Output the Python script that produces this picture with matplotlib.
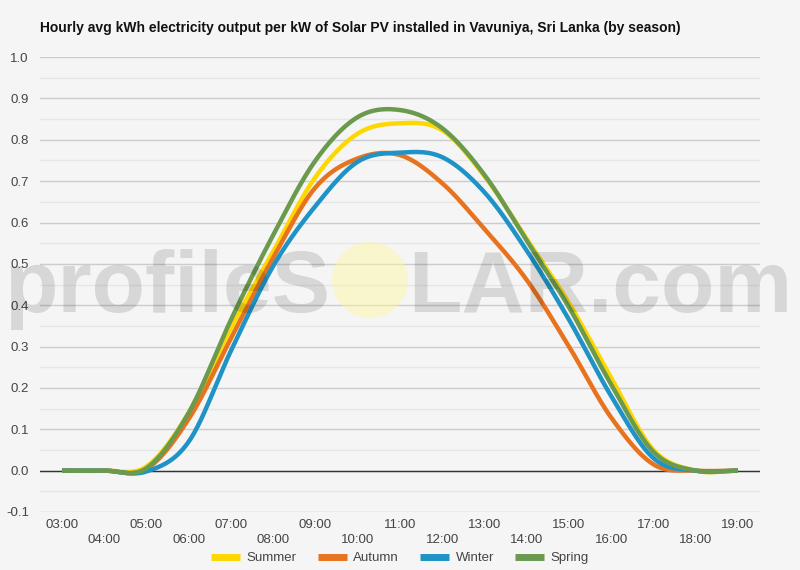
import numpy as np
import matplotlib
matplotlib.use("Agg")
import matplotlib.pyplot as plt
from matplotlib.patches import Ellipse

# data (hourly)
hours = list(range(3, 20))
hour_labels = ["%02d:00" % h for h in hours]
summer = [0, 0, 0.01, 0.14, 0.345, 0.53, 0.71, 0.815, 0.84, 0.823, 0.712, 0.56, 0.405, 0.224, 0.05, 0, 0]
autumn = [0, 0, 0.004, 0.125, 0.32, 0.515, 0.685, 0.755, 0.763, 0.695, 0.584, 0.461, 0.30, 0.128, 0.015, 0, 0]
winter = [0, 0, -0.002, 0.07, 0.29, 0.495, 0.64, 0.747, 0.769, 0.758, 0.673, 0.532, 0.365, 0.18, 0.03, 0, 0]
spring = [0, 0, 0.006, 0.14, 0.365, 0.57, 0.75, 0.855, 0.872, 0.828, 0.715, 0.556, 0.395, 0.208, 0.045, 0, 0]
seasons = ["Summer", "Autumn", "Winter", "Spring"]
colors = ["#FFD700", "#E8731F", "#1F93C6", "#6B9A4F"]


def smooth(x, y, n=24):
    # catmull-rom through the hourly points (chart uses smoothed lines)
    x = np.asarray(x, float)
    y = np.asarray(y, float)
    m = np.zeros_like(y)
    m[1:-1] = (y[2:] - y[:-2]) / (x[2:] - x[:-2])
    m[0] = (y[1] - y[0]) / (x[1] - x[0])
    m[-1] = (y[-1] - y[-2]) / (x[-1] - x[-2])
    xs, ys = [], []
    for i in range(len(x) - 1):
        h = x[i + 1] - x[i]
        t = np.linspace(0, 1, n, endpoint=False)
        h00 = 2 * t**3 - 3 * t**2 + 1
        h10 = t**3 - 2 * t**2 + t
        h01 = -2 * t**3 + 3 * t**2
        h11 = t**3 - t**2
        xs.append(x[i] + t * h)
        ys.append(h00 * y[i] + h10 * h * m[i] + h01 * y[i + 1] + h11 * h * m[i + 1])
    xs.append([x[-1]])
    ys.append([y[-1]])
    return np.concatenate(xs), np.concatenate(ys)


plt.rcParams['font.family'] = ['Liberation Sans', 'DejaVu Sans']
bg = "#f5f5f5"
fig = plt.figure(figsize=(8, 5.7), dpi=100, facecolor=bg)
ax = fig.add_axes([0.05, 0.1018, 0.9, 0.798], facecolor=bg)

for name, vals, c in zip(seasons, [summer, autumn, winter, spring], colors):
    sx, sy = smooth(hours, vals)
    ax.plot(sx, sy, color=c, lw=3.2, label=name, solid_capstyle='butt', zorder=3)

ax.set_xlim(2.48, 19.52)
ax.set_ylim(-0.1, 1.0)
ax.set_yticks(np.arange(-0.1, 1.01, 0.1))
ax.set_yticks(np.arange(-0.05, 1.0, 0.1), minor=True)
ax.set_yticklabels(["%.1f" % v for v in np.arange(-0.1, 1.01, 0.1)])
ax.grid(axis='y', which='major', color='#cccccc', lw=1)
ax.grid(axis='y', which='minor', color='#e6e6e6', lw=1)
ax.axhline(0, color='#333333', lw=1, zorder=2)
for s in ax.spines.values():
    s.set_visible(False)

ax.set_xticks(hours[::2])
ax.set_xticklabels(hour_labels[::2])
ax.set_xticks(hours[1::2], minor=True)
ax.set_xticklabels(hour_labels[1::2], minor=True)
ax.tick_params(axis='x', which='major', length=0, pad=5, labelsize=9.5, labelcolor='#444444')
ax.tick_params(axis='x', which='minor', length=0, pad=16, labelsize=9.5, labelcolor='#444444')
ax.tick_params(axis='y', which='both', length=0, pad=8, labelsize=9.5, labelcolor='#444444')

fig.text(0.05, 1 - 28 / 570, "Hourly avg kWh electricity output per kW of Solar PV installed in Vavuniya, Sri Lanka (by season)",
         fontsize=10, fontweight='bold', va='center', ha='left', color='#111111')

leg = fig.legend(loc='center', bbox_to_anchor=(0.5, 12 / 570), ncol=4, frameon=False,
                 fontsize=9.5, handlelength=2.2, columnspacing=1.6, handletextpad=0.5)
for t in leg.get_texts():
    t.set_color('#444444')
for l in leg.get_lines():
    l.set_linewidth(5)

# watermark
fig.add_artist(Ellipse((370 / 800, 1 - 280 / 570), 76 / 800, 76 / 570, transform=fig.transFigure,
                       facecolor='#fff59d', alpha=0.45, edgecolor='none', zorder=5))
fig.text(330 / 800, 1 - 312 / 570, "profileS", fontsize=63, fontweight='bold', ha='right', va='baseline',
         color='black', alpha=0.12, zorder=6)
fig.text(408 / 800, 1 - 312 / 570, "LAR.com", fontsize=63, fontweight='bold', ha='left', va='baseline',
         color='black', alpha=0.12, zorder=6)

fig.savefig("out.png", dpi=100, facecolor=bg)
